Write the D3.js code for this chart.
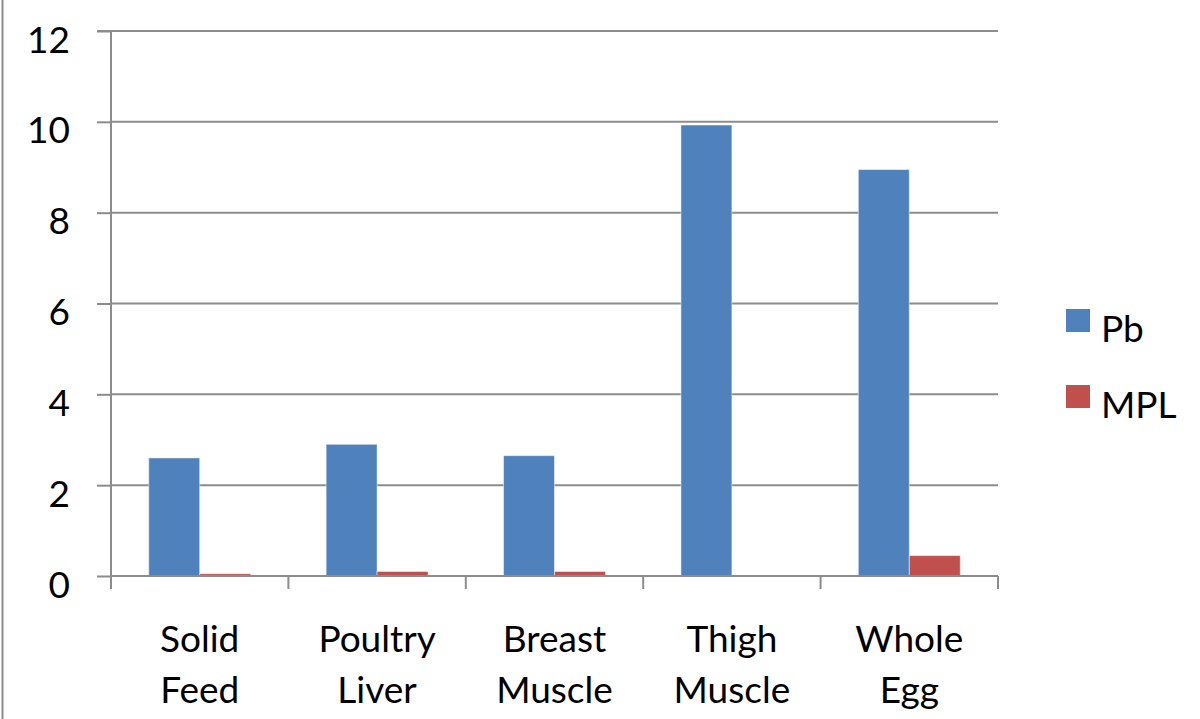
<!DOCTYPE html>
<html><head><meta charset="utf-8">
<script src="https://cdn.jsdelivr.net/npm/d3@7"></script>
<style>html,body{margin:0;padding:0;background:#fff;}svg{display:block;}</style>
</head><body>
<svg id="c" width="1200" height="719"></svg>
<script>
const categories = [["Solid","Feed"],["Poultry","Liver"],["Breast","Muscle"],["Thigh","Muscle"],["Whole","Egg"]];
const seriesNames = ["Pb","MPL"];
const pbValues = [2.6, 2.9, 2.65, 9.93, 8.95];
const mplValues = [0.05, 0.1, 0.1, 0, 0.45];
const yTicks = [0,2,4,6,8,10,12];
const colors = ["#4F81BD","#C0504D"];

const svg = d3.select("#c");
const font = "Lato, 'Open Sans', sans-serif";
const fs = 37;
const L = 111, R = 998, T = 31, B = 576;
const x = d3.scaleBand().domain(d3.range(categories.length)).range([L, R]).paddingInner(0).paddingOuter(0);
const y = d3.scaleLinear().domain([0,12]).range([B, T]);
const x1 = d3.scaleBand().domain(seriesNames).range([0, x.bandwidth()]).paddingInner(0).paddingOuter(0.74);

// left border
svg.append("line").attr("x1",2.5).attr("x2",2.5).attr("y1",0).attr("y2",719).attr("stroke","#8c8c8c").attr("stroke-width",2);

// gridlines
svg.append("g").selectAll("line").data(yTicks.filter(d=>d>0)).join("line")
  .attr("x1",L).attr("x2",R).attr("y1",d=>y(d)).attr("y2",d=>y(d))
  .attr("stroke","#8c8c8c").attr("stroke-width",2);

// bars
const data = categories.map((c,i)=>({i, vals:[pbValues[i], mplValues[i]]}));
const g = svg.append("g").selectAll("g").data(data).join("g").attr("transform",d=>`translate(${x(d.i)},0)`);
g.selectAll("rect").data(d=>d.vals.map((v,k)=>({v,k}))).join("rect")
  .attr("x",d=>x1(seriesNames[d.k])).attr("width",x1.bandwidth())
  .attr("y",d=>y(d.v)).attr("height",d=>B-y(d.v))
  .attr("fill",d=>colors[d.k]).attr("stroke",d=>d.v>0?"rgba(255,255,255,0.5)":"none").attr("stroke-width",1);

// y axis
const yAxis = d3.axisLeft(y).tickValues(yTicks).tickSize(14).tickPadding(27);
const ya = svg.append("g").attr("transform",`translate(${L},0)`).call(yAxis);
ya.select(".domain").attr("stroke","#8c8c8c").attr("stroke-width",2).attr("d",`M-14,${T}H0V${B+8}`);
ya.selectAll(".tick line").attr("stroke","#8c8c8c").attr("stroke-width",2);
ya.selectAll(".tick text").attr("font-family",font).attr("font-size",fs).attr("fill","#000").attr("dy",null).attr("y",21);

// x axis
const xAxis = d3.axisBottom(x).tickValues([]).tickSize(0);
const xa = svg.append("g").attr("transform",`translate(0,${B})`).call(xAxis);
xa.select(".domain").attr("stroke","#8c8c8c").attr("stroke-width",2).attr("d",`M${L},0H${R}`);
const xt = [...d3.range(categories.length).map(i=>x(i)), R];
xa.selectAll("line.tk").data(xt).join("line").attr("class","tk")
  .attr("x1",d=>d).attr("x2",d=>d).attr("y1",0).attr("y2",13).attr("stroke","#8c8c8c").attr("stroke-width",2);
const labels = xa.selectAll("text.cat").data(categories).join("text").attr("class","cat")
  .attr("x",(d,i)=>x(i)+x.bandwidth()/2).attr("text-anchor","middle")
  .attr("font-family",font).attr("font-size",fs).attr("fill","#000");
labels.selectAll("tspan").data(d=>d).join("tspan")
  .attr("x",function(){return this.parentNode.getAttribute("x");})
  .attr("y",(d,j)=>76+j*51).text(d=>d);

// legend
const lg = svg.append("g").selectAll("g").data(seriesNames).join("g")
  .attr("transform",(d,i)=>`translate(1066,${309+i*76})`);
lg.append("rect").attr("width",24).attr("height",23).attr("fill",(d,i)=>colors[i]);
lg.append("text").attr("x",35).attr("y",33).attr("font-family",font).attr("font-size",fs).attr("fill","#000").text(d=>d);
</script>
</body></html>
